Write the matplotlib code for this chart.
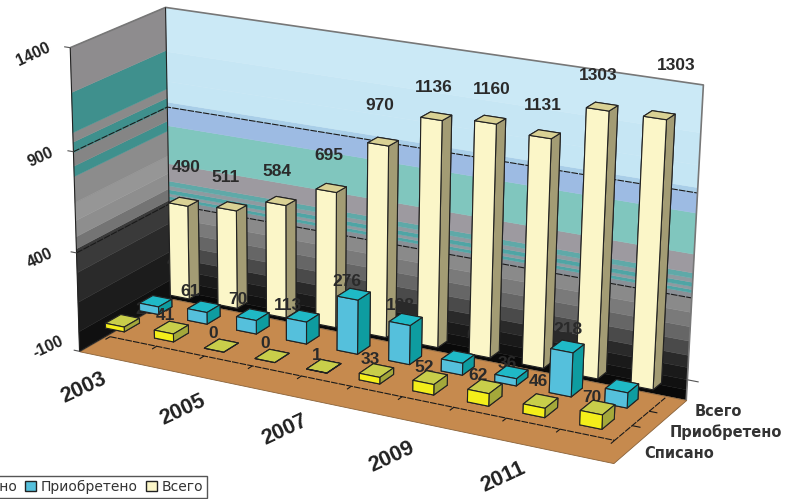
import numpy as np
import matplotlib
matplotlib.use('Agg')
from matplotlib import pyplot as plt
from matplotlib.patches import Patch
from matplotlib.transforms import Affine2D
from mpl_toolkits.mplot3d.art3d import Poly3DCollection, Line3DCollection

W, H = 785, 499

# data
years = [2003, 2004, 2005, 2006, 2007, 2008, 2009, 2010, 2011, 2012]
spisano = [25, 41, 0, 0, 1, 33, 52, 62, 46, 70]
priobreteno = [40, 61, 70, 113, 276, 198, 60, 36, 218, 75]
vsego = [490, 511, 584, 695, 970, 1136, 1160, 1131, 1303, 1303]
series_names = ['Списано', 'Приобретено', 'Всего']
year_ticks = ['2003', '2005', '2007', '2009', '2011']
z_ticks = ['1400', '900', '400', '-100']
z_floor = -100

# box corners (x, depth, z) and where they sit on the picture, for the camera
box = [(0, 0, -100), (0, 0, 1400), (0, 3, -100), (0, 3, 1400),
       (10, 3, -100), (10, 3, 1400), (10, 0, -100)]
box_px = [(82, 352), (68, 47), (168, 298), (168, 8), (687, 400), (703, 85), (613, 463)]


def fit_camera(world, screen):
    # DLT, z scaled so the system is not badly conditioned
    rows = []
    for (x, y, z), (u, v) in zip(world, screen):
        z = z / 100
        rows.append([x, y, z, 1, 0, 0, 0, 0, -u*x, -u*y, -u*z, -u])
        rows.append([0, 0, 0, 0, x, y, z, 1, -v*x, -v*y, -v*z, -v])
    _, _, vt = np.linalg.svd(np.array(rows, dtype=float))
    p = vt[-1].reshape(3, 4)
    p = p @ np.diag([1, 1, 0.01, 1])
    if p[2] @ np.array([5, 1.5, 650, 1]) < 0:
        p = -p
    return p


cam = fit_camera(box, box_px)
c_depth = 0.5 * (cam[2] @ np.array([5, 1.5, 650, 1]))

fig = plt.figure(figsize=(W/100, H/100), dpi=100)
# 3d axes keep a square box, so make it big enough to cover the figure
ax = fig.add_axes([0, (1 - W/H)/2, 1, W/H], projection='3d')
ax.set_axis_off()
ax.computed_zorder = False


def my_proj():
    flip = np.array([[1, 0, 0], [0, -1, H], [0, 0, 1.0]])
    p2 = ax.transData.inverted().get_matrix() @ flip @ cam
    depth = cam[2] - np.array([0, 0, 0, c_depth])
    return np.vstack([p2[0], p2[1], depth, p2[2]])


ax.get_proj = my_proj
px = Affine2D().scale(1, -1).translate(0, H)

# walls: (upper z of the band, colour)
back_bands = [(1400, '#CBE9F6'), (1180, '#C6E6F4'), (1030, '#C5E6F4'), (925, '#A9CEE8'),
              (900, '#9DBBE3'), (805, '#80C6BE'), (610, '#9D9AA0'), (520, '#5FA9A8'),
              (495, '#8F9AA0'), (475, '#4FA5A5'), (455, '#8F9AA0'), (440, '#4FA5A5'),
              (425, '#8A9096'), (400, '#8A8A8A'), (330, '#7A7A7A'), (260, '#666666'),
              (190, '#4A4A4A'), (120, '#2A2A2A'), (60, '#1A1A1A'), (0, '#111111'),
              (-50, '#090909')]
left_bands = [(1400, '#8E8C8E'), (1186, '#3F908D'), (992, '#8A8A8A'), (946, '#3F908D'),
              (895, '#858585'), (829, '#3F908D'), (778, '#8C8C8C'), (650, '#969696'),
              (560, '#8E8E8E'), (480, '#747474'), (420, '#3A3A3A'), (300, '#2A2A2A'),
              (150, '#1C1C1C'), (0, '#101010')]


def wall(bands, corner):
    polys, cols = [], []
    for i, (top, c) in enumerate(bands):
        low = bands[i+1][0] if i + 1 < len(bands) else z_floor
        polys.append(corner(top, low))
        cols.append(c)
    ax.add_collection3d(Poly3DCollection(polys, facecolors=cols, edgecolors=cols,
                                         linewidths=0.3, zorder=1), autolim=False)


wall(back_bands, lambda t, l: [(0, 3, t), (10, 3, t), (10, 3, l), (0, 3, l)])
wall(left_bands, lambda t, l: [(0, 0, t), (0, 3, t), (0, 3, l), (0, 0, l)])

floor = [(0, 0, z_floor), (10, 0, z_floor), (10, 3, z_floor), (0, 3, z_floor)]
ax.add_collection3d(Poly3DCollection([floor], facecolors='#C68A4E', edgecolors='#8A6238',
                                     linewidths=0.6, zorder=2), autolim=False)


def lines(segs, color, lw, ls='solid'):
    ax.add_collection3d(Line3DCollection(segs, colors=color, linewidths=lw, linestyles=ls, zorder=3),
                        autolim=False)


dash = (0, (6, 1))
# gridlines and outline of the walls
for z in [400, 900]:
    lines([[(0, 0, z), (0, 3, z), (10, 3, z)]], '#1A1A1A', 0.8, dash)
lines([[(0, 0, 1400), (0, 3, 1400), (10, 3, 1400), (10, 3, z_floor)]], '#777777', 1.2)
lines([[(0, 0, 1400), (0, 0, z_floor), (0, 3, z_floor)], [(0, 3, 1400), (0, 3, z_floor)]], '#222222', 0.8)
# the inner axis on the floor, with its ticks
lines([[(0.08, 0.85, z_floor), (9.65, 0.85, z_floor), (9.66, 2.92, z_floor)]], '#1A1A1A', 0.8, dash)
lines([[(0.08 + i*0.957, 0.85, z_floor), (0.08 + i*0.957, 0.7, z_floor)] for i in range(11)], '#1A1A1A', 0.8)
lines([[(9.65, d, z_floor), (9.8, d, z_floor)] for d in [1.55, 2.25]], '#1A1A1A', 0.8)
# small ticks next to the z labels
lines([[(0, 0, z), (-0.12, 0, z)] for z in [-100, 400, 900, 1400]], '#555555', 0.8)
lines([[(10, 3, 0), (10.2, 3, 0)]], '#555555', 0.8)


def bars(values, x0, step, y0, dx, dy, front, side, top, z):
    for i, v in enumerate(values):
        # faces: bottom, top, front, back, left, right
        ax.bar3d(x0 + i*step, y0, z_floor, dx, dy, v, shade=False,
                 color=[top, top, front, side, side, side],
                 edgecolor='#222222', linewidth=0.8, zorder=z)


bars(vsego, -0.1, 1.005, 3.15, 0.40, 0.36, '#FBF6C8', '#A39C74', '#D9D194', 10)
bars(priobreteno, -0.16, 1.005, 2.2, 0.40, 0.45, '#55C0DC', '#0E9CA0', '#1FB9C6', 13)
bars(spisano, -0.22, 1.013, 1.17, 0.39, 0.5, '#F3EE1A', '#A4A83A', '#C8CE4A', 15)

# value labels, placed by hand the way they sit on the picture
vsego_pos = [(186, 167), (226, 178), (277, 172), (329, 156), (380, 105),
             (434, 87), (492, 89), (543, 105), (598, 76), (676, 66)]
prio_pos = [(176, 262), (190, 292), (238, 300), (288, 305), (347, 281),
            (400, 306), (476, 335), (507, 363), (568, 330), (650, 375)]
prio_behind = [True, False, False, False, False, False, True, True, False, True]
spis_pos = [(145, 310), (165, 315), (213, 334), (265, 344), (317, 355),
            (370, 359), (424, 367), (478, 376), (538, 382), (592, 397)]
label_font = dict(family='Liberation Sans', fontweight='bold', fontsize=12.5, color='#2A2A2A',
                  ha='center', va='center', transform=px)
for v, (x, y) in zip(vsego, vsego_pos):
    ax.text2D(x, y, str(v), zorder=11, **label_font)
for v, (x, y), hid in zip(priobreteno, prio_pos, prio_behind):
    ax.text2D(x, y, str(v), zorder=5 if hid else 12, **label_font)
for v, (x, y), z in zip(spisano, spis_pos, [12] + [14]*9):
    ax.text2D(x, y, str(v), zorder=z, **label_font)

# axis labels
tick_font = dict(family='Liberation Sans', fontweight='bold', color='#222222', ha='center',
                 va='center', rotation=25, rotation_mode='anchor', transform=px, zorder=20)
for s, (x, y) in zip(year_ticks, [(84, 388), (183, 410), (285, 430), (392, 457), (503, 477)]):
    ax.text2D(x, y, s, fontsize=15.5, **tick_font)
for s, (x, y) in zip(z_ticks, [(33, 54), (41, 157), (40, 258), (48, 347)]):
    ax.text2D(x, y, s, fontsize=11.5, **tick_font)
for s, (x, y) in zip(series_names, [(679, 453), (726, 432), (718, 412)]):
    ax.text2D(x, y, s, family='DejaVu Sans', fontweight='bold', fontsize=10.5, color='#333333',
              ha='center', va='center', transform=px, zorder=20)

# legend runs off the left edge of the picture
handles = [Patch(facecolor=c, edgecolor='#222222', label=n)
           for c, n in zip(['#F3EE1A', '#55C0DC', '#FBF6C8'], series_names)]
fig.legend(handles=handles, ncol=3, loc='lower right', bbox_to_anchor=(207, 498), bbox_transform=px,
           prop=dict(family='DejaVu Sans', size=10), fancybox=False, edgecolor='#555555',
           framealpha=1, borderpad=0.3, handlelength=0.8, handleheight=0.8,
           handletextpad=0.3, columnspacing=0.6, labelcolor='#333333', borderaxespad=0)

fig.savefig('out.png', dpi=100)
